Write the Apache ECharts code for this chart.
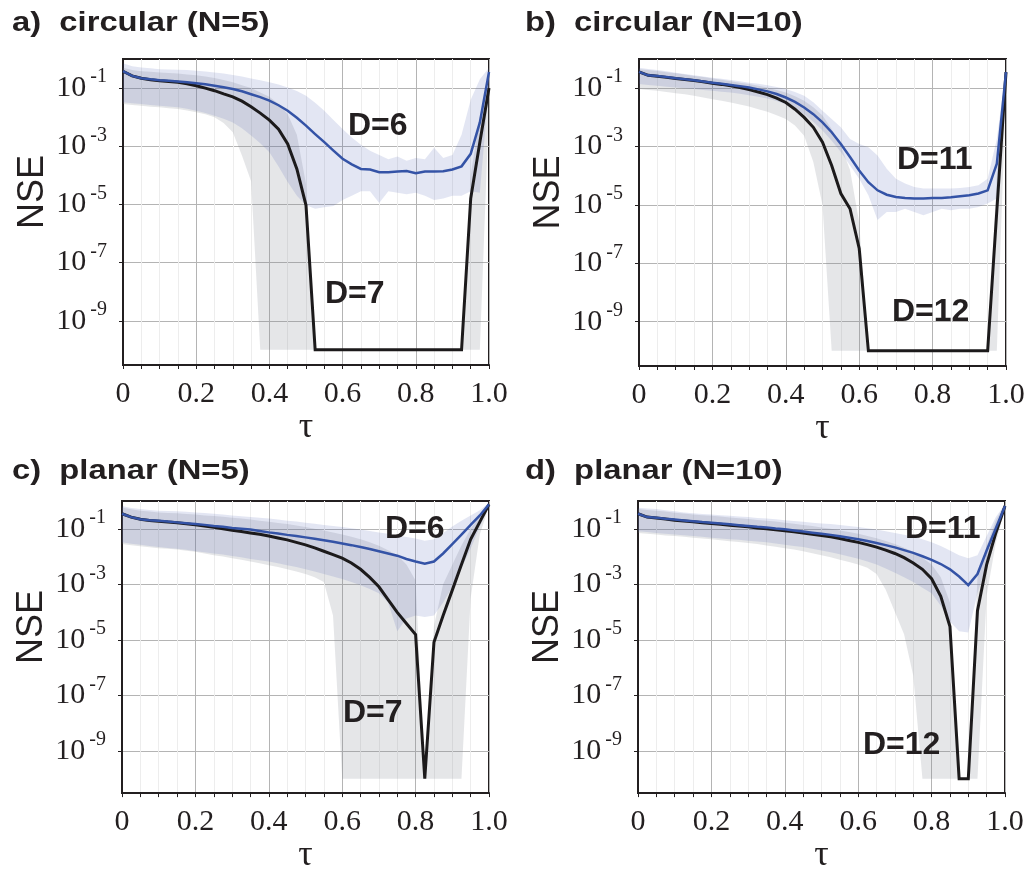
<!DOCTYPE html>
<html>
<head>
<meta charset="utf-8">
<script src="https://cdn.jsdelivr.net/npm/echarts@6/dist/echarts.min.js"></script>
<style>
  html, body { margin: 0; padding: 0; background: #fff; }
  #chart { width: 1028px; height: 875px; }
</style>
</head>
<body>
<div id="chart"></div>
<script>
// τ sample points (shared by all panels)
const TAU = [0, 0.025, 0.05, 0.075, 0.1, 0.125, 0.15, 0.175, 0.2, 0.225, 0.25, 0.275, 0.3, 0.325, 0.35, 0.375,
  0.4, 0.425, 0.45, 0.475, 0.5, 0.525, 0.55, 0.575, 0.6, 0.625, 0.65, 0.675, 0.7, 0.725, 0.75, 0.775,
  0.8, 0.825, 0.85, 0.875, 0.9, 0.925, 0.95, 0.975, 1.0];

// y-axis tick labels (exponents of 10)
const Y_TICK_EXPONENTS = [-9, -7, -5, -3, -1];

// All NSE values below are stored as log10(NSE).

// a) circular, N=5
const A_D6_MEAN = [-0.42, -0.58, -0.66, -0.70, -0.73, -0.75, -0.77, -0.80, -0.83, -0.87, -0.92, -0.97, -1.03, -1.11, -1.21, -1.31,
  -1.43, -1.59, -1.78, -2.02, -2.29, -2.58, -2.86, -3.15, -3.43, -3.62, -3.78, -3.80, -3.89, -3.89, -3.87, -3.85,
  -3.93, -3.87, -3.87, -3.86, -3.80, -3.69, -3.26, -2.18, -0.45];
const A_D6_HI = [-0.15, -0.25, -0.29, -0.32, -0.35, -0.36, -0.37, -0.38, -0.40, -0.43, -0.46, -0.50, -0.55, -0.60, -0.67, -0.73,
  -0.80, -0.88, -0.98, -1.10, -1.26, -1.50, -1.78, -2.10, -2.41, -2.70, -2.95, -3.15, -3.30, -3.45, -3.35, -3.50,
  -3.40, -3.45, -3.05, -3.40, -3.30, -2.60, -1.40, -0.70, -0.30];
const A_D6_LO = [-1.49, -1.52, -1.55, -1.58, -1.61, -1.63, -1.66, -1.71, -1.78, -1.86, -1.95, -2.05, -2.18, -2.38, -2.63, -2.90,
  -3.21, -3.70, -4.23, -4.70, -5.03, -5.15, -5.10, -5.05, -4.85, -4.70, -4.55, -4.55, -4.95, -4.55, -4.60, -4.65,
  -4.60, -4.70, -4.85, -4.80, -4.70, -4.70, -4.55, -4.60, -0.90];
const A_D7_MEAN = [-0.42, -0.58, -0.66, -0.71, -0.75, -0.77, -0.80, -0.85, -0.92, -1.00, -1.09, -1.20, -1.30, -1.45, -1.64, -1.86,
  -2.10, -2.41, -2.92, -3.78, -5.03, -10, -10, -10, -10, -10, -10, -10, -10, -10, -10, -10,
  -10, -10, -10, -10, -10, -10, -4.80, -2.86, -1.00];
const A_D7_HI = [-0.30, -0.38, -0.42, -0.44, -0.46, -0.48, -0.50, -0.53, -0.56, -0.60, -0.65, -0.72, -0.80, -0.90, -1.00, -1.15,
  -1.30, -1.55, -1.90, -2.60, -4.30, -10, -10, -10, -10, -10, -10, -10, -10, -10, -10, -10,
  -10, -10, -10, -10, -10, -10, -4.00, -2.00, -0.60];
const A_D7_LO = [-1.55, -1.58, -1.61, -1.64, -1.66, -1.69, -1.72, -1.77, -1.83, -1.90, -2.00, -2.20, -2.52, -3.32, -4.20, -10,
  -10, -10, -10, -10, -10, -10, -10, -10, -10, -10, -10, -10, -10, -10, -10, -10,
  -10, -10, -10, -10, -10, -10, -10, -10, -1.60];

// b) circular, N=10
const B_D11_MEAN = [-0.44, -0.56, -0.58, -0.62, -0.66, -0.69, -0.73, -0.77, -0.81, -0.85, -0.89, -0.93, -0.98, -1.04, -1.11, -1.20,
  -1.32, -1.47, -1.66, -1.89, -2.17, -2.51, -2.91, -3.36, -3.82, -4.22, -4.50, -4.65, -4.73, -4.76, -4.78, -4.78,
  -4.76, -4.76, -4.74, -4.70, -4.67, -4.61, -4.50, -3.59, -0.45];
const B_D11_HI = [-0.30, -0.34, -0.38, -0.42, -0.47, -0.51, -0.56, -0.60, -0.64, -0.68, -0.72, -0.76, -0.81, -0.85, -0.90, -0.96,
  -1.03, -1.13, -1.26, -1.48, -1.77, -2.06, -2.34, -2.74, -2.91, -3.02, -3.31, -3.76, -4.10, -4.27, -4.39, -4.44,
  -4.44, -4.44, -4.44, -4.42, -4.39, -4.33, -4.10, -2.74, -0.35];
const B_D11_LO = [-0.86, -0.89, -0.92, -0.95, -0.98, -1.00, -1.03, -1.06, -1.09, -1.12, -1.15, -1.19, -1.24, -1.29, -1.35, -1.44,
  -1.55, -1.70, -1.89, -2.15, -2.45, -2.80, -3.19, -3.65, -4.10, -4.67, -5.52, -5.24, -5.24, -5.13, -5.24, -5.35,
  -5.24, -5.13, -5.18, -5.13, -5.13, -5.07, -4.95, -4.78, -0.58];
const B_D12_MEAN = [-0.44, -0.56, -0.59, -0.63, -0.67, -0.70, -0.74, -0.78, -0.83, -0.87, -0.92, -0.98, -1.05, -1.13, -1.22, -1.34,
  -1.49, -1.72, -2.00, -2.34, -2.85, -3.65, -4.61, -5.13, -6.49, -10, -10, -10, -10, -10, -10, -10,
  -10, -10, -10, -10, -10, -10, -10, -5.20, -0.45];
const B_D12_HI = [-0.35, -0.38, -0.41, -0.45, -0.49, -0.53, -0.58, -0.62, -0.67, -0.71, -0.76, -0.81, -0.86, -0.92, -0.98, -1.06,
  -1.15, -1.28, -1.43, -1.65, -1.94, -2.40, -2.97, -3.80, -5.60, -10, -10, -10, -10, -10, -10, -10,
  -10, -10, -10, -10, -10, -10, -10, -4.00, -0.35];
const B_D12_LO = [-1.03, -1.06, -1.09, -1.13, -1.17, -1.21, -1.26, -1.32, -1.38, -1.43, -1.49, -1.56, -1.63, -1.72, -1.81, -1.93,
  -2.06, -2.28, -2.63, -3.53, -5.00, -10, -10, -10, -10, -10, -10, -10, -10, -10, -10, -10,
  -10, -10, -10, -10, -10, -10, -10, -10, -1.00];

// c) planar, N=5
const C_D6_MEAN = [-0.46, -0.58, -0.66, -0.69, -0.71, -0.74, -0.77, -0.80, -0.83, -0.86, -0.90, -0.93, -0.97, -1.00, -1.03, -1.08,
  -1.13, -1.17, -1.22, -1.26, -1.31, -1.36, -1.41, -1.47, -1.53, -1.59, -1.66, -1.73, -1.81, -1.89, -1.97, -2.09,
  -2.18, -2.26, -2.18, -1.89, -1.55, -1.21, -0.86, -0.52, -0.12];
const C_D6_HI = [-0.18, -0.25, -0.29, -0.32, -0.35, -0.36, -0.37, -0.39, -0.41, -0.43, -0.46, -0.49, -0.52, -0.55, -0.58, -0.60,
  -0.63, -0.67, -0.71, -0.74, -0.78, -0.82, -0.86, -0.90, -0.94, -0.98, -1.03, -1.08, -1.13, -1.18, -1.24, -1.30,
  -1.35, -1.43, -1.38, -1.15, -0.92, -0.71, -0.52, -0.33, -0.06];
const C_D6_LO = [-1.49, -1.54, -1.58, -1.62, -1.66, -1.69, -1.72, -1.76, -1.81, -1.85, -1.89, -1.93, -1.98, -2.03, -2.09, -2.13,
  -2.18, -2.24, -2.31, -2.38, -2.46, -2.54, -2.63, -2.72, -2.81, -2.92, -3.03, -3.17, -3.32, -3.66, -4.69, -4.23,
  -4.12, -4.18, -4.12, -3.66, -3.09, -2.41, -1.72, -0.92, -0.18];
const C_D7_MEAN = [-0.46, -0.58, -0.66, -0.70, -0.73, -0.76, -0.78, -0.82, -0.86, -0.90, -0.95, -1.00, -1.05, -1.10, -1.15, -1.20,
  -1.26, -1.33, -1.40, -1.49, -1.58, -1.69, -1.81, -1.93, -2.06, -2.23, -2.46, -2.75, -3.09, -3.55, -4.01, -4.41,
  -4.81, -10, -5.09, -4.12, -3.21, -2.29, -1.38, -0.75, -0.12];
const C_D7_HI = [-0.23, -0.30, -0.35, -0.38, -0.41, -0.43, -0.44, -0.47, -0.49, -0.52, -0.54, -0.57, -0.60, -0.63, -0.67, -0.71,
  -0.75, -0.79, -0.83, -0.88, -0.94, -1.00, -1.06, -1.13, -1.21, -1.29, -1.38, -1.49, -1.61, -1.77, -1.95, -2.29,
  -2.86, -10, -4.50, -3.00, -2.30, -1.60, -1.00, -0.50, -0.10];
const C_D7_LO = [-1.55, -1.59, -1.63, -1.67, -1.70, -1.72, -1.75, -1.79, -1.83, -1.89, -1.95, -2.00, -2.06, -2.12, -2.18, -2.24,
  -2.31, -2.38, -2.46, -2.54, -2.63, -2.75, -2.92, -4.12, -10, -10, -10, -10, -10, -10, -10, -10,
  -10, -10, -10, -10, -10, -10, -3.50, -1.20, -0.20];

// d) planar, N=10
const D_D11_MEAN = [-0.46, -0.58, -0.60, -0.64, -0.67, -0.70, -0.73, -0.76, -0.78, -0.81, -0.84, -0.87, -0.90, -0.93, -0.95, -0.99,
  -1.02, -1.06, -1.10, -1.14, -1.18, -1.22, -1.27, -1.32, -1.38, -1.44, -1.51, -1.59, -1.67, -1.77, -1.87, -1.99,
  -2.12, -2.27, -2.46, -2.72, -3.03, -2.63, -1.78, -0.98, -0.18];
const D_D11_HI = [-0.24, -0.27, -0.29, -0.33, -0.37, -0.41, -0.44, -0.47, -0.49, -0.51, -0.53, -0.56, -0.58, -0.61, -0.63, -0.66,
  -0.69, -0.72, -0.75, -0.78, -0.81, -0.83, -0.86, -0.90, -0.94, -0.98, -1.03, -1.09, -1.15, -1.22, -1.29, -1.38,
  -1.49, -1.62, -1.78, -1.95, -2.06, -1.95, -1.26, -0.58, -0.12];
const D_D11_LO = [-1.09, -1.12, -1.15, -1.18, -1.21, -1.23, -1.26, -1.29, -1.32, -1.35, -1.38, -1.40, -1.43, -1.46, -1.49, -1.53,
  -1.58, -1.62, -1.66, -1.72, -1.78, -1.85, -1.92, -2.00, -2.08, -2.18, -2.29, -2.43, -2.58, -2.75, -2.92, -3.12,
  -3.32, -3.77, -4.34, -4.69, -4.74, -3.32, -2.30, -1.20, -0.25];
const D_D12_MEAN = [-0.46, -0.58, -0.61, -0.65, -0.69, -0.72, -0.75, -0.78, -0.81, -0.84, -0.87, -0.90, -0.93, -0.97, -1.00, -1.04,
  -1.07, -1.11, -1.15, -1.20, -1.24, -1.29, -1.35, -1.42, -1.49, -1.57, -1.66, -1.77, -1.89, -2.04, -2.23, -2.46,
  -2.80, -3.43, -4.52, -10, -10, -3.95, -2.29, -1.15, -0.18];
const D_D12_HI = [-0.29, -0.32, -0.35, -0.38, -0.42, -0.45, -0.49, -0.51, -0.53, -0.56, -0.59, -0.62, -0.65, -0.68, -0.71, -0.74,
  -0.78, -0.82, -0.86, -0.90, -0.95, -1.00, -1.06, -1.12, -1.18, -1.26, -1.34, -1.44, -1.55, -1.68, -1.83, -2.04,
  -2.29, -2.75, -3.66, -10, -10, -2.75, -1.60, -0.69, -0.10];
const D_D12_LO = [-1.15, -1.18, -1.21, -1.24, -1.26, -1.29, -1.32, -1.35, -1.38, -1.41, -1.45, -1.48, -1.51, -1.55, -1.60, -1.65,
  -1.70, -1.75, -1.81, -1.88, -1.95, -2.03, -2.12, -2.20, -2.29, -2.40, -2.63, -3.20, -4.00, -4.80, -6.29, -10,
  -10, -10, -10, -10, -10, -10, -3.40, -1.50, -0.30];

// Panel layout and decorations
const INK = '#231f20';
const BLUE = '#3453a6';
const BLUE_BAND = 'rgba(68, 88, 175, 0.15)';
const GRAY_BAND = 'rgba(125, 130, 140, 0.2)';

const PANELS = [
  { left: 123, top: 59, width: 366, height: 306, title: 'a)  circular (N=5)', tx: 12, ty: 23.5,
    low: { mean: A_D6_MEAN, lo: A_D6_LO, hi: A_D6_HI }, high: { mean: A_D7_MEAN, lo: A_D7_LO, hi: A_D7_HI },
    notes: [['D=6', 348, 126], ['D=7', 325, 294.5]] },
  { left: 639, top: 59, width: 367, height: 307, title: 'b)  circular (N=10)', tx: 525, ty: 23.5,
    low: { mean: B_D11_MEAN, lo: B_D11_LO, hi: B_D11_HI }, high: { mean: B_D12_MEAN, lo: B_D12_LO, hi: B_D12_HI },
    notes: [['D=11', 897, 160.5], ['D=12', 892, 312]] },
  { left: 122, top: 501, width: 367, height: 306, title: 'c)  planar (N=5)', tx: 12, ty: 471,
    low: { mean: C_D6_MEAN, lo: C_D6_LO, hi: C_D6_HI }, high: { mean: C_D7_MEAN, lo: C_D7_LO, hi: C_D7_HI },
    notes: [['D=6', 385, 529.5], ['D=7', 343, 713.5]] },
  { left: 638, top: 501, width: 367, height: 306, title: 'd)  planar (N=10)', tx: 525, ty: 471,
    low: { mean: D_D11_MEAN, lo: D_D11_LO, hi: D_D11_HI }, high: { mean: D_D12_MEAN, lo: D_D12_LO, hi: D_D12_HI },
    notes: [['D=11', 905, 529.5], ['D=12', 863, 745]] }
];

const pow10 = e => Math.pow(10, e);
const Y_TICKS = Y_TICK_EXPONENTS.map(pow10);

// Shaded spread between a lower and an upper curve, as one polygon
function bandSeries(gi, lo, hi, fill) {
  const rows = TAU.map((t, i) => [t, pow10(lo[i]), pow10(hi[i])]);
  return {
    type: 'custom', xAxisIndex: gi, yAxisIndex: gi, silent: true, clip: true, z: 1,
    encode: { x: 0, y: [1, 2] },
    data: rows,
    renderItem(params, api) {
      if (params.dataIndex !== 0) return null;
      const pts = [];
      for (let i = 0; i < rows.length; i++) pts.push(api.coord([rows[i][0], rows[i][2]]));
      for (let i = rows.length - 1; i >= 0; i--) pts.push(api.coord([rows[i][0], rows[i][1]]));
      return { type: 'polygon', shape: { points: pts }, style: { fill: fill } };
    }
  };
}

function lineSeries(gi, vals, color, width, z) {
  return {
    type: 'line', xAxisIndex: gi, yAxisIndex: gi, silent: true, clip: true, z: z,
    showSymbol: false, symbol: 'none', smooth: false,
    lineStyle: { color: color, width: width, join: 'miter' },
    data: TAU.map((t, i) => [t, pow10(vals[i])])
  };
}

const grids = [], xAxes = [], yAxes = [], series = [], graphics = [];

PANELS.forEach((p, gi) => {
  grids.push({
    left: p.left, top: p.top, width: p.width, height: p.height,
    show: true, borderColor: INK, borderWidth: 2, backgroundColor: 'transparent'
  });
  xAxes.push({
    gridIndex: gi, type: 'value', min: 0, max: 1, interval: 0.2,
    name: 'τ', nameLocation: 'middle', nameGap: 37,
    nameTextStyle: { fontFamily: 'Liberation Serif', fontSize: 36, color: INK },
    axisLine: { show: true, lineStyle: { color: INK, width: 2 } },
    axisTick: { show: true, length: 4, lineStyle: { color: INK, width: 1 } },
    minorTick: { show: true, splitNumber: 4, length: 4, lineStyle: { color: INK, width: 1 } },
    splitLine: { show: true, lineStyle: { color: '#b4b4b4', width: 1 } },
    minorSplitLine: { show: true, lineStyle: { color: '#ededed', width: 1 } },
    axisLabel: {
      margin: 14, fontFamily: 'Liberation Serif', fontSize: 30, color: INK,
      showMinLabel: true, showMaxLabel: true,
      formatter: v => (v === 0 ? '0' : v.toFixed(1))
    }
  });
  yAxes.push({
    gridIndex: gi, type: 'log', logBase: 10, min: pow10(-10.52), max: 1,
    name: 'NSE', nameLocation: 'middle', nameGap: 72,
    nameTextStyle: { fontFamily: 'Liberation Sans', fontSize: 36, color: INK, padding: [0, 0, 0, 40] },
    axisLine: { show: true, lineStyle: { color: INK, width: 2 } },
    axisTick: { show: true, length: 4, customValues: Y_TICKS, lineStyle: { color: INK, width: 1 } },
    splitLine: { show: true, lineStyle: { color: '#b4b4b4', width: 1 } },
    minorTick: { show: false }, minorSplitLine: { show: false },
    axisLabel: {
      margin: 16, color: INK, customValues: Y_TICKS,
      formatter: v => '{b|10}{e|' + Math.round(Math.log10(v)) + '}',
      rich: {
        b: { fontFamily: 'Liberation Serif', fontSize: 30, lineHeight: 42, color: INK },
        e: { fontFamily: 'Liberation Serif', fontSize: 20, lineHeight: 20, verticalAlign: 'top', padding: [0, 0, 0, 4], color: INK }
      }
    }
  });
  series.push(bandSeries(gi, p.high.lo, p.high.hi, GRAY_BAND));
  series.push(bandSeries(gi, p.low.lo, p.low.hi, BLUE_BAND));
  series.push(lineSeries(gi, p.high.mean, '#1c1a1b', 3, 3));
  series.push(lineSeries(gi, p.low.mean, BLUE, 2.5, 4));

  graphics.push({
    type: 'text', x: p.tx, y: p.ty, scaleX: 1.17, z: 10,
    style: { text: p.title, font: 'bold 28px "Liberation Sans"', fill: INK, align: 'left', verticalAlign: 'middle' }
  });
  p.notes.forEach(([txt, x, y]) => {
    graphics.push({
      type: 'text', x: x, y: y, z: 10,
      style: { text: txt, font: 'bold 32px "Liberation Sans"', fill: INK, align: 'left', verticalAlign: 'middle' }
    });
  });
});

const chart = echarts.init(document.getElementById('chart'), null, { renderer: 'canvas' });
chart.setOption({
  animation: false,
  backgroundColor: '#ffffff',
  grid: grids,
  xAxis: xAxes,
  yAxis: yAxes,
  series: series,
  graphic: { elements: graphics }
});
</script>
</body>
</html>
